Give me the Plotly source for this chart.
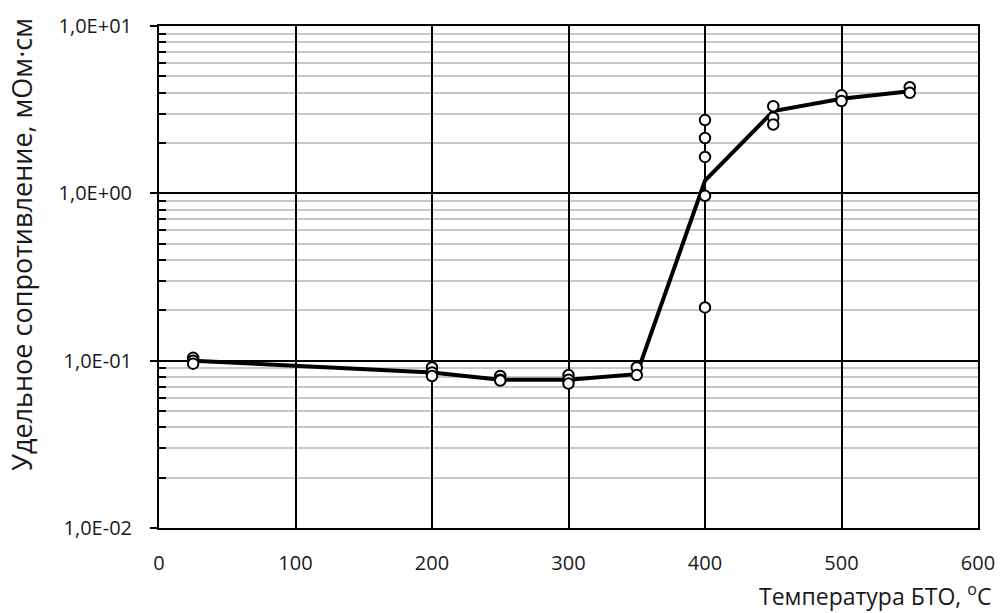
import plotly.graph_objects as go

# Measured resistivity (mOhm*cm) versus BTO temperature (deg C)
temp_points = [25, 25, 25,
               200, 200, 200,
               250, 250, 250,
               300, 300, 300,
               350, 350,
               400, 400, 400, 400, 400,
               450, 450, 450,
               500, 500,
               550, 550]
resist_points = [0.104, 0.100, 0.096,
                 0.091, 0.085, 0.081,
                 0.081, 0.077, 0.076,
                 0.082, 0.077, 0.073,
                 0.091, 0.082,
                 2.74, 2.14, 1.65, 0.966, 0.208,
                 3.32, 2.83, 2.58,
                 3.85, 3.56,
                 4.31, 3.99]

# Averaged curve
temp_curve = [25, 200, 250, 300, 350, 400, 450, 500, 550]
resist_curve = [0.100, 0.085, 0.077, 0.077, 0.083, 1.19, 3.10, 3.67, 4.08]

y_tick_vals = [0.01, 0.1, 1, 10]
y_tick_text = ["1,0E-02", "1,0E-01", "1,0E+00", "1,0E+01"]
x_tick_vals = [0, 100, 200, 300, 400, 500, 600]

minor_vals = [m * 10 ** e for e in (-2, -1, 0) for m in range(2, 10)]

FONT = "Open Sans"
TEXT = "#1a1a1a"

fig = go.Figure()
fig.add_trace(go.Scatter(
    x=temp_curve, y=resist_curve, mode="lines",
    line=dict(color="black", width=4), hoverinfo="skip", showlegend=False))
fig.add_trace(go.Scatter(
    x=temp_points, y=resist_points, mode="markers",
    marker=dict(symbol="circle", size=10.5, color="white",
                line=dict(color="black", width=2)),
    showlegend=False))

fig.update_layout(
    width=1007, height=613,
    margin=dict(l=159, r=22, t=25, b=85),
    paper_bgcolor="white", plot_bgcolor="white",
    font=dict(family=FONT, size=20, color=TEXT),
)

fig.update_xaxes(
    range=[0, 600], tickvals=x_tick_vals,
    showgrid=True, gridcolor="black", gridwidth=2,
    showline=True, linecolor="black", linewidth=2, mirror=True,
    ticks="", zeroline=False, ticklabelstandoff=16,
    tickfont=dict(family=FONT, size=20, color=TEXT),
)
fig.update_yaxes(
    type="log", range=[-2, 1],
    tickmode="array", tickvals=y_tick_vals, ticktext=y_tick_text,
    showgrid=True, gridcolor="black", gridwidth=2,
    showline=True, linecolor="black", linewidth=2, mirror=True,
    ticks="outside", ticklen=7, tickwidth=1.5, tickcolor="black",
    ticklabelstandoff=14,
    tickfont=dict(family=FONT, size=20, color=TEXT),
    minor=dict(tickmode="array", tickvals=minor_vals,
               showgrid=True, gridcolor="#c8c8c8", gridwidth=1.5,
               ticks="inside", ticklen=7, tickwidth=1.5, tickcolor="black"),
    zeroline=False,
)

fig.add_annotation(
    text="Удельное сопротивление, мОм·см",
    xref="paper", yref="paper", x=-0.168, y=0.565,
    xanchor="center", yanchor="middle", textangle=-90, showarrow=False,
    font=dict(family=FONT, size=27, color=TEXT))
fig.add_annotation(
    text="Температура БТО, <sup>o</sup>C",
    xref="paper", yref="paper", x=1.018, y=-0.133,
    xanchor="right", yanchor="middle", showarrow=False,
    font=dict(family=FONT, size=23, color=TEXT))

fig.write_html("out.html")
